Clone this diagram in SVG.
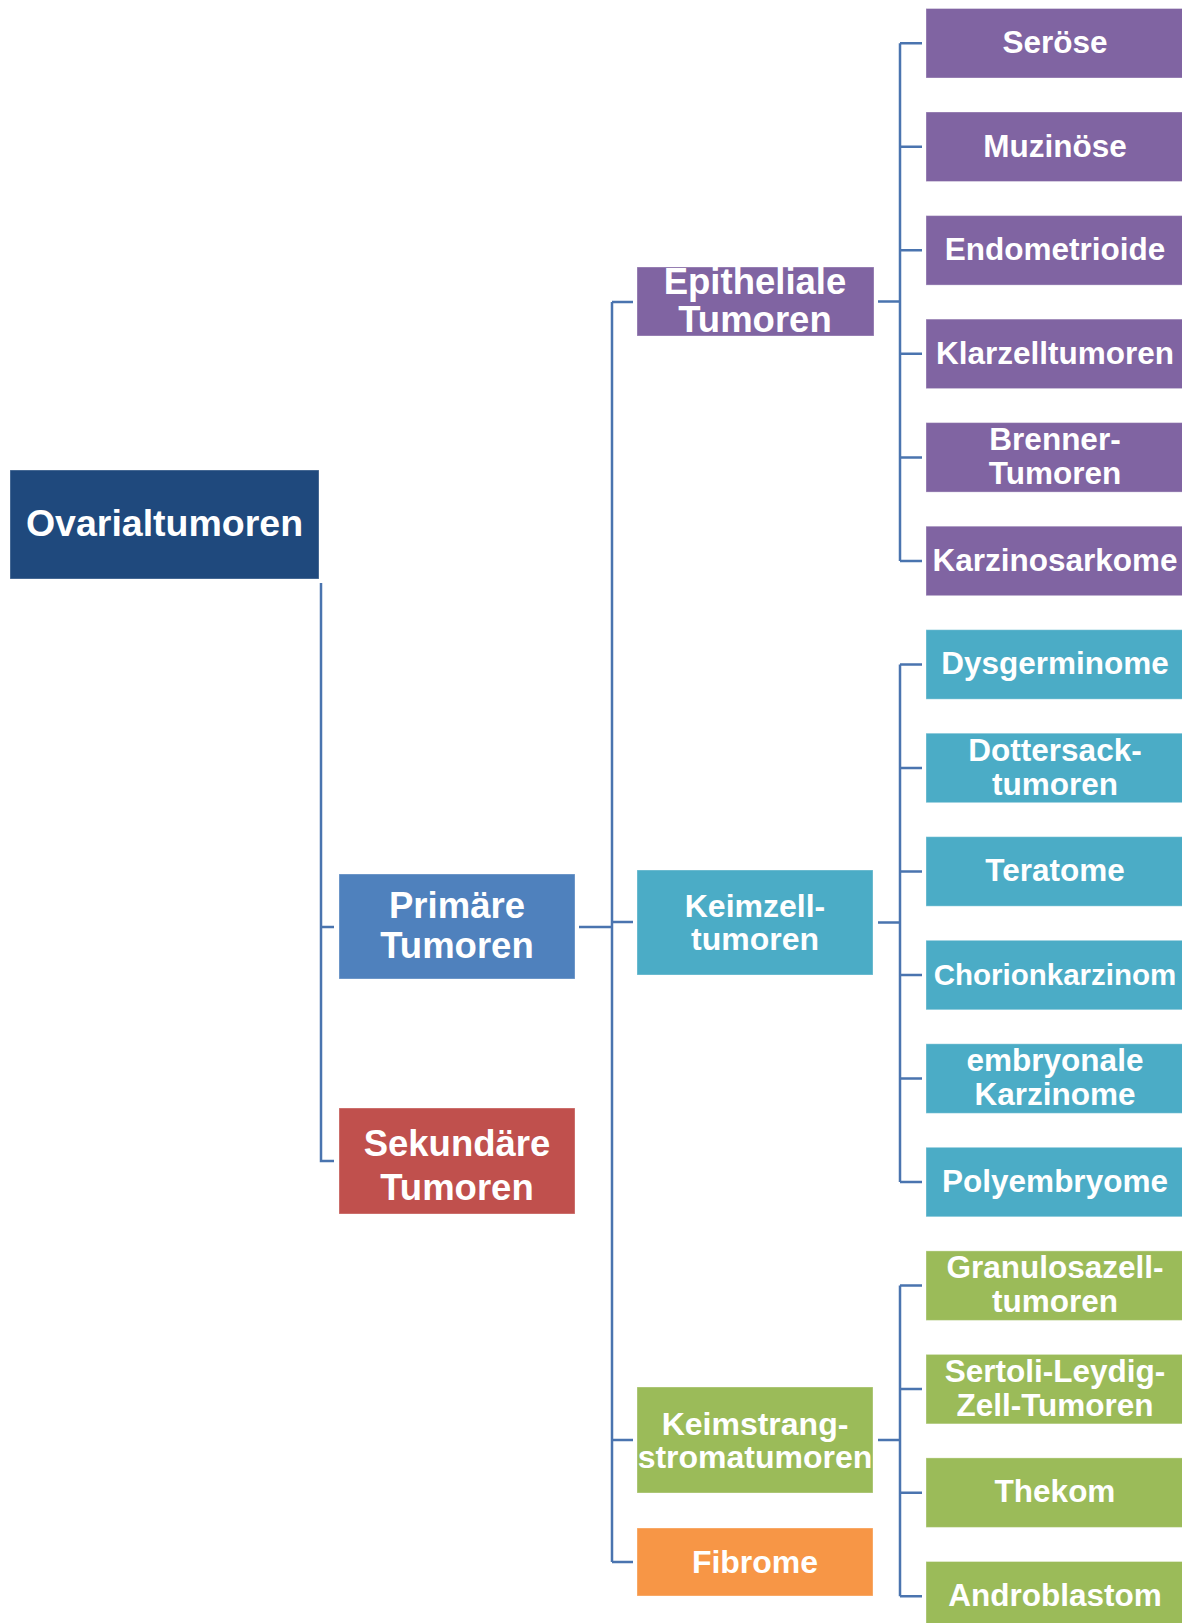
<svg xmlns="http://www.w3.org/2000/svg" width="1182" height="1623" viewBox="0 0 1182 1623">
<style>
text{font-family:"Liberation Sans",Arial,sans-serif;font-weight:bold;fill:#fff;text-anchor:middle}
.c{font-size:31.5px}
.m{font-size:32px}
rect{stroke:#ffffff;stroke-opacity:0.35;stroke-width:1}
.dark{fill:#1F497D}.blue{fill:#4F81BD}.red{fill:#C0504D}.pur{fill:#8064A2}.teal{fill:#4BACC6}.grn{fill:#9BBB59}.org{fill:#F79646}
.conn path{fill:none;stroke:#4A74AF;stroke-width:2.5}
</style>
<rect width="1182" height="1623" fill="#fff" stroke="none"/>
<g class="conn" id="connectors">
<path d="M321,583 V1161 H334 M321,927 H334"/>
<path d="M579,927 H612 M612,302 V1562 M612,302 H633 M612,922 H633 M612,1440 H633 M612,1562 H633"/>
<path d="M878,301.5 H900 M900,43.3 V560.9 M900,43.3 H922 M900,146.8 H922 M900,250.3 H922 M900,353.8 H922 M900,457.4 H922 M900,560.9 H922"/>
<path d="M878,922.5 H900 M900,664.4 V1182.1 M900,664.4 H922 M900,768 H922 M900,871.5 H922 M900,975 H922 M900,1078.6 H922 M900,1182.1 H922"/>
<path d="M878,1440 H900 M900,1285.6 V1596.2 M900,1285.6 H922 M900,1389.1 H922 M900,1492.7 H922 M900,1596.2 H922"/>
</g>
<g id="ovarialtumoren"><rect class="dark" x="10" y="470" width="309" height="109"/><text x="164.5" y="535.5" style="font-size:37.5px">Ovarialtumoren</text></g>
<g id="primaere"><rect class="blue" x="339" y="874" width="236" height="105"/><text x="457" y="918.3" style="font-size:36.5px">Primäre</text><text x="457" y="958.3" style="font-size:36.5px">Tumoren</text></g>
<g id="sekundaere"><rect class="red" x="339" y="1108" width="236" height="106"/><text x="457" y="1155.5" style="font-size:36.5px">Sekundäre</text><text x="457" y="1200" style="font-size:36.5px">Tumoren</text></g>
<g id="epitheliale"><rect class="pur" x="637" y="267" width="237" height="69"/><text x="755" y="293.5" style="font-size:36.5px">Epitheliale</text><text x="755" y="332" style="font-size:36.5px">Tumoren</text></g>
<g id="keimzell"><rect class="teal" x="637" y="870" width="236" height="105"/><text class="m" x="755" y="917">Keimzell-</text><text class="m" x="755" y="950">tumoren</text></g>
<g id="keimstrang"><rect class="grn" x="637" y="1387" width="236" height="106"/><text class="m" x="755" y="1434.5">Keimstrang-</text><text class="m" x="755" y="1467.5">stromatumoren</text></g>
<g id="fibrome"><rect class="org" x="637" y="1528" width="236" height="68"/><text class="m" x="755" y="1573">Fibrome</text></g>
<g id="seroese"><rect class="pur" x="926" y="8.5" width="260" height="69.5"/><text class="c" x="1055" y="52.8">Seröse</text></g>
<g id="muzinoese"><rect class="pur" x="926" y="112" width="260" height="69.5"/><text class="c" x="1055" y="156.5">Muzinöse</text></g>
<g id="endometrioide"><rect class="pur" x="926" y="215.6" width="260" height="69.5"/><text class="c" x="1055" y="260">Endometrioide</text></g>
<g id="klarzell"><rect class="pur" x="926" y="319.1" width="260" height="69.5"/><text class="c" x="1055" y="363.5">Klarzelltumoren</text></g>
<g id="brenner"><rect class="pur" x="926" y="422.6" width="260" height="69.5"/><text class="c" x="1055" y="450">Brenner-</text><text class="c" x="1055" y="484">Tumoren</text></g>
<g id="karzinosarkome"><rect class="pur" x="926" y="526.2" width="260" height="69.5"/><text class="c" x="1055" y="570.6">Karzinosarkome</text></g>
<g id="dysgerminome"><rect class="teal" x="926" y="629.7" width="260" height="69.5"/><text class="c" x="1055" y="674.1">Dysgerminome</text></g>
<g id="dottersack"><rect class="teal" x="926" y="733.2" width="260" height="69.5"/><text class="c" x="1055" y="760.7">Dottersack-</text><text class="c" x="1055" y="794.7">tumoren</text></g>
<g id="teratome"><rect class="teal" x="926" y="836.7" width="260" height="69.5"/><text class="c" x="1055" y="881.2">Teratome</text></g>
<g id="chorionkarzinom"><rect class="teal" x="926" y="940.3" width="260" height="69.5"/><text x="1055" y="984.5" style="font-size:29.5px">Chorionkarzinom</text></g>
<g id="embryonale"><rect class="teal" x="926" y="1043.8" width="260" height="69.5"/><text class="c" x="1055" y="1071.3">embryonale</text><text class="c" x="1055" y="1105.3">Karzinome</text></g>
<g id="polyembryome"><rect class="teal" x="926" y="1147.3" width="260" height="69.5"/><text class="c" x="1055" y="1191.8">Polyembryome</text></g>
<g id="granulosazell"><rect class="grn" x="926" y="1250.9" width="260" height="69.5"/><text class="c" x="1055" y="1278.3">Granulosazell-</text><text class="c" x="1055" y="1312.3">tumoren</text></g>
<g id="sertoli"><rect class="grn" x="926" y="1354.4" width="260" height="69.5"/><text class="c" x="1055" y="1381.8">Sertoli-Leydig-</text><text class="c" x="1055" y="1415.8">Zell-Tumoren</text></g>
<g id="thekom"><rect class="grn" x="926" y="1457.9" width="260" height="69.5"/><text class="c" x="1055" y="1502.4">Thekom</text></g>
<g id="androblastom"><rect class="grn" x="926" y="1561.5" width="260" height="69.5"/><text class="c" x="1055" y="1605.9">Androblastom</text></g>
</svg>
